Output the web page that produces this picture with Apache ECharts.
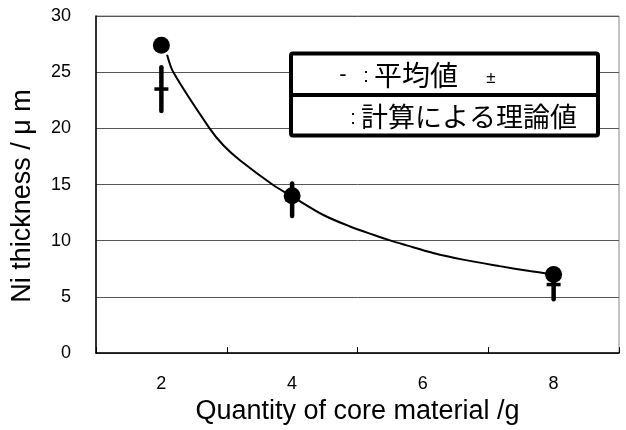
<!DOCTYPE html>
<html>
<head>
<meta charset="utf-8">
<script src="https://cdn.jsdelivr.net/npm/echarts@6/dist/echarts.min.js"></script>
<style>
  html, body { margin: 0; padding: 0; background: #fff; }
  #chart { width: 626px; height: 430px; }
</style>
</head>
<body>
<div id="chart"></div>
<script>
// Category ticks along the bottom axis (core material quantity, g)
var categories = ['2', '4', '6', '8'];

// Measured Ni thickness: mean and standard deviation per core quantity
var measuredX = [2, 4, 8];
var measuredMean = [23.5, 13.65, 6.1];
var measuredSD = [1.95, 1.45, 1.3];

// Calculated (theoretical) thickness at the measured quantities
var theoryX = [2, 4, 8];
var theoryY = [27.4, 14.0, 7.0];

// Theoretical curve traced between the calculated points
var curveX = [2.087, 2.188, 2.737, 2.951, 3.206, 3.715, 4.0, 4.478, 4.885, 5.241, 5.496, 5.751, 6.157, 6.615, 7.176, 7.634, 7.913];
var curveY = [26.56, 24.94, 20.0, 18.47, 17.14, 14.94, 13.94, 12.29, 11.27, 10.53, 10.03, 9.59, 8.91, 8.32, 7.74, 7.30, 7.06];

// Y axis ticks
var yMin = 0, yMax = 30, yStep = 5;

var LATIN = '"Liberation Sans", Arial, sans-serif';
var CJK = '"Noto Sans CJK JP", sans-serif';

var errorData = measuredX.map(function (x, i) {
  return [x, measuredMean[i], measuredSD[i]];
});
var theoryData = theoryX.map(function (x, i) { return [x, theoryY[i]]; });
var curveData = curveX.map(function (x, i) { return [x, curveY[i]]; });

var chart = echarts.init(document.getElementById('chart'), null, { renderer: 'canvas' });

chart.setOption({
  backgroundColor: '#fff',
  animation: false,
  grid: {
    left: 96, right: 7, top: 16, bottom: 74,
    show: true, borderColor: '#888', borderWidth: 1, backgroundColor: 'transparent'
  },
  xAxis: [{
    type: 'category',
    data: categories,
    boundaryGap: true,
    axisLine: { lineStyle: { color: '#000', width: 1.5 } },
    axisTick: { show: true, inside: true, length: 6, lineStyle: { color: '#000', width: 1 } },
    axisLabel: { color: '#000', fontFamily: LATIN, fontSize: 18, margin: 22 },
    splitLine: { show: false },
    name: 'Quantity of core material /g',
    nameLocation: 'middle',
    nameGap: 36,
    nameTextStyle: { color: '#000', fontFamily: LATIN, fontSize: 27 }
  }, {
    type: 'value',
    min: 1, max: 9,
    show: false
  }],
  yAxis: {
    type: 'value',
    min: yMin, max: yMax, interval: yStep,
    axisLine: { show: true, lineStyle: { color: '#000', width: 1.5 } },
    axisTick: { show: false },
    axisLabel: { color: '#000', fontFamily: LATIN, fontSize: 18, margin: 25 },
    splitLine: { show: true, lineStyle: { color: '#555', width: 1 } }
  },
  series: [{
    // mean ± SD bars
    type: 'custom',
    xAxisIndex: 1,
    z: 2,
    data: errorData,
    renderItem: function (params, api) {
      var x = api.value(0), m = api.value(1), s = api.value(2);
      var top = api.coord([x, m + s]);
      var bot = api.coord([x, m - s]);
      var mid = api.coord([x, m]);
      return {
        type: 'group',
        children: [{
          type: 'line',
          shape: { x1: top[0], y1: top[1], x2: bot[0], y2: bot[1] },
          style: { stroke: '#000', lineWidth: 4.5, lineCap: 'round' }
        }, {
          type: 'line',
          shape: { x1: mid[0] - 7, y1: mid[1], x2: mid[0] + 7, y2: mid[1] },
          style: { stroke: '#000', lineWidth: 3.5 }
        }]
      };
    }
  }, {
    // theoretical curve
    type: 'line',
    xAxisIndex: 1,
    z: 3,
    data: curveData,
    smooth: 0.3,
    showSymbol: false,
    lineStyle: { color: '#000', width: 2 }
  }, {
    // calculated values
    type: 'scatter',
    xAxisIndex: 1,
    z: 4,
    data: theoryData,
    symbol: 'circle',
    symbolSize: 17,
    itemStyle: { color: '#000', opacity: 1 }
  }],
  graphic: [{
    type: 'text',
    x: 23, y: 196,
    rotation: Math.PI / 2,
    style: {
      text: 'Ni thickness / μ m',
      fill: '#000',
      font: '27px ' + LATIN,
      align: 'center',
      verticalAlign: 'middle'
    }
  }, {
    type: 'rect',
    z: 10,
    shape: { x: 291, y: 53.5, width: 307, height: 82, r: 2 },
    style: { fill: '#fff', stroke: '#000', lineWidth: 4 }
  }, {
    type: 'line',
    z: 11,
    shape: { x1: 291, y1: 95, x2: 598, y2: 95 },
    style: { stroke: '#000', lineWidth: 4 }
  }, {
    type: 'text', z: 12, x: 343, y: 75,
    style: { text: '-', fill: '#000', font: '22px ' + LATIN, align: 'center', verticalAlign: 'middle' }
  }, {
    type: 'text', z: 12, x: 366, y: 76,
    style: { text: ':', fill: '#000', font: '20px ' + LATIN, align: 'center', verticalAlign: 'middle' }
  }, {
    type: 'text', z: 12, x: 374, y: 75,
    style: { text: '平均値', fill: '#000', font: '28px ' + CJK, align: 'left', verticalAlign: 'middle' }
  }, {
    type: 'text', z: 12, x: 491, y: 78,
    style: { text: '±', fill: '#000', font: '17px ' + LATIN, align: 'center', verticalAlign: 'middle' }
  }, {
    type: 'text', z: 12, x: 353, y: 118,
    style: { text: ':', fill: '#000', font: '20px ' + LATIN, align: 'center', verticalAlign: 'middle' }
  }, {
    type: 'text', z: 12, x: 361, y: 117,
    style: { text: '計算による理論値', fill: '#000', font: '27px ' + CJK, align: 'left', verticalAlign: 'middle' }
  }]
});
</script>
</body>
</html>
